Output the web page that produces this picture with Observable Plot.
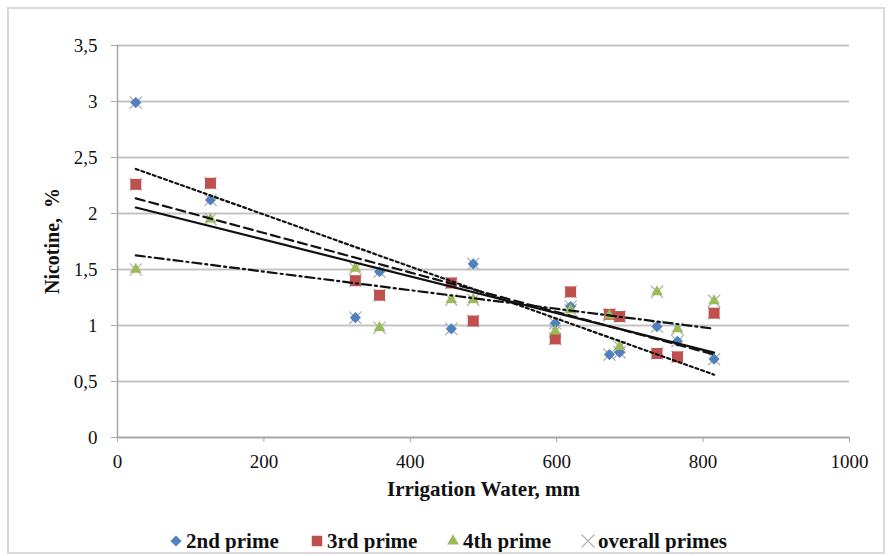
<!DOCTYPE html>
<html><head><meta charset="utf-8">
<script src="https://cdn.jsdelivr.net/npm/d3@7"></script>
<script src="https://cdn.jsdelivr.net/npm/@observablehq/plot@0.6"></script>
<style>
body{margin:0;background:#fff;}
#wrap{position:relative;width:888px;height:556px;overflow:hidden;font-family:"Liberation Serif",serif;background:#fff;}
#chart{position:absolute;left:0;top:0;}
#border{position:absolute;left:7px;top:7px;width:874px;height:543px;border:2px solid #d9d9d9;pointer-events:none;}
#ytitle{position:absolute;left:52px;top:241px;transform:translate(-50%,-50%) rotate(-90deg);font-weight:bold;font-size:20px;color:#111;white-space:pre;line-height:1;}
#legend{position:absolute;top:528px;left:0;width:888px;height:26px;font-weight:bold;font-size:21px;color:#111;}
.item{position:absolute;top:0;height:26px;display:flex;align-items:center;white-space:nowrap;}
.item svg{margin-right:3px;}
</style></head><body>
<div id="wrap"><div id="chart"></div><div id="ytitle"></div><div id="legend"></div><div id="border"></div></div>
<script>
// Irrigation water (mm)
const water = [25, 127, 325, 358, 456, 486, 598, 619, 672, 686, 737, 765, 815];
// Nicotine (%) per prime
const prime2 = [2.99, 2.12, 1.07, 1.48, 0.97, 1.55, 1.02, 1.17, 0.74, 0.76, 0.99, 0.86, 0.70];
const prime3 = [2.26, 2.27, 1.40, 1.27, 1.38, 1.04, 0.88, 1.30, 1.10, 1.08, 0.75, 0.72, 1.11];
const prime4 = [1.50, 1.95, 1.51, 0.98, 1.23, 1.23, 0.95, 1.14, 1.09, 0.81, 1.30, 0.97, 1.22];
const seriesNames = ["2nd prime", "3rd prime", "4th prime", "overall primes"];
const yTicks = [0, 0.5, 1, 1.5, 2, 2.5, 3, 3.5];
const xTicks = [0, 200, 400, 600, 800, 1000];
const xTitle = "Irrigation Water, mm";
const yTitle = "Nicotine,  %";

const toRows = (vals) => water.map((w, i) => ({w, v: vals[i]}));
const d2 = toRows(prime2), d3r = toRows(prime3), d4 = toRows(prime4);
const overall = [...d2, ...d3r, ...d4];

const colors = {"2nd prime": "#4f81bd", "3rd prime": "#c0504d", "4th prime": "#9bbb59", "overall primes": "#b4b4b4"};
const fmtY = d => String(d).replace(".", ",");
const fmtX = d => String(d);

const chart = Plot.plot({
  width: 888, height: 510,
  marginLeft: 117, marginRight: 39, marginTop: 45, marginBottom: 73,
  style: {fontFamily: "Liberation Serif", fontSize: "19px", color: "#111", background: "transparent"},
  x: {domain: [0, 1000]},
  y: {domain: [0, 3.5]},
  marks: [
    Plot.gridY(yTicks, {stroke: "#c4c4c4", strokeOpacity: 1, strokeWidth: 2}),
    Plot.ruleX([0], {stroke: "#a6a6a6", strokeWidth: 1.5}),
    Plot.ruleY([0], {stroke: "#a6a6a6", strokeWidth: 1.5}),
    Plot.axisY(yTicks, {tickFormat: fmtY, tickSize: 6, tickPadding: 14, stroke: "#a6a6a6", fill: "#111", label: null}),
    Plot.axisX(xTicks, {tickFormat: fmtX, tickSize: 5, tickPadding: 12, stroke: "#a6a6a6", fill: "#111", label: null}),
    Plot.text([xTitle], {frameAnchor: "bottom", dy: 58, fontWeight: "bold", fontSize: 21, fill: "#111"}),
    Plot.dot(overall, {x: "w", y: "v", symbol: "times", r: 5.6, stroke: colors["overall primes"], strokeWidth: 1.3}),
    Plot.dot(d2, {x: "w", y: "v", symbol: "diamond2", r: 5, fill: colors["2nd prime"], stroke: "none"}),
    Plot.dot(d3r, {x: "w", y: "v", symbol: "square", r: 6.2, fill: colors["3rd prime"], stroke: "none"}),
    Plot.dot(d4, {x: "w", y: "v", symbol: "triangle", r: 4.3, fill: colors["4th prime"], stroke: "none"}),
    Plot.linearRegressionY(d2, {x: "w", y: "v", ci: 0, stroke: "#111", strokeWidth: 2.2, strokeDasharray: "3,3"}),
    Plot.linearRegressionY(d3r, {x: "w", y: "v", ci: 0, stroke: "#111", strokeWidth: 2.2, strokeDasharray: "9,5"}),
    Plot.linearRegressionY(d4, {x: "w", y: "v", ci: 0, stroke: "#111", strokeWidth: 2.2, strokeDasharray: "9,4,2,4"}),
    Plot.linearRegressionY(overall, {x: "w", y: "v", ci: 0, stroke: "#111", strokeWidth: 2.2})
  ]
});
document.getElementById("chart").appendChild(chart);
document.getElementById("ytitle").textContent = yTitle;

// Legend
const legendSymbols = [d3.symbolDiamond2, d3.symbolSquare, d3.symbolTriangle, d3.symbolTimes];
const legendSizes = [80, 110, 60, 110];
const legendLeft = [169, 310, 446, 581];
const legend = document.getElementById("legend");
seriesNames.forEach((name, i) => {
  const item = document.createElement("div");
  item.className = "item";
  item.style.left = legendLeft[i] + "px";
  const isStroke = i === 3;
  const path = d3.symbol(legendSymbols[i], legendSizes[i])();
  item.innerHTML = `<svg width="14" height="14" viewBox="-7 -7 14 14"><path d="${path}" fill="${isStroke ? "none" : colors[name]}" stroke="${isStroke ? colors[name] : "none"}" stroke-width="1.3"/></svg><span>${name}</span>`;
  legend.appendChild(item);
});
</script>
</body></html>
